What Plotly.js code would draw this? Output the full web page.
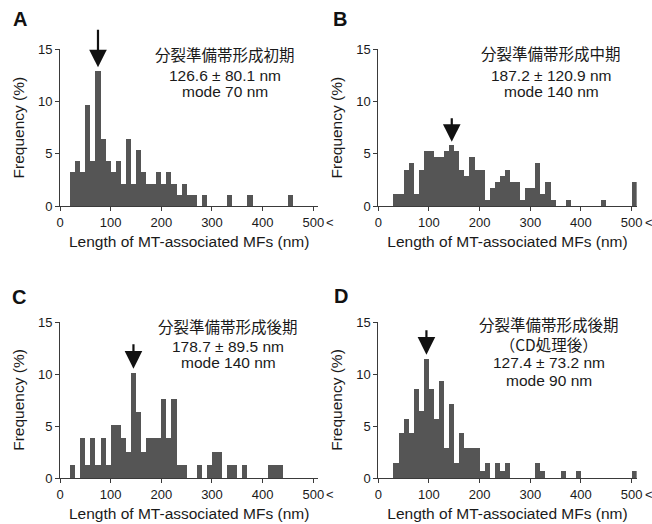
<!DOCTYPE html>
<html>
<head>
<meta charset="utf-8">
<script src="https://cdn.plot.ly/plotly-3.0.1.min.js"></script>
<style>
  html, body { margin: 0; padding: 0; background: #ffffff; }
  #chart { width: 652px; height: 524px; }
</style>
</head>
<body>
<div id="chart"></div>
<script>
// ---- data ----
const binStarts = [0,10,20,30,40,50,60,70,80,90,
  100,110,120,130,140,150,160,170,180,190,
  200,210,220,230,240,250,260,270,280,290,
  300,310,320,330,340,350,360,370,380,390,
  400,410,420,430,440,450,460,470,480,490,
  500];

const freqEarly = [0,0,3.23,4.30,3.23,9.68,4.30,12.90,6.45,4.30,
  3.23,4.30,2.15,6.45,2.15,5.38,3.23,2.15,2.15,3.23,
  2.15,3.23,2.15,1.08,2.15,1.08,1.08,0,1.08,0,
  0,0,0,1.08,0,0,0,1.08,0,0,
  0,0,0,0,0,1.08,0,0,0,0,
  0];

const freqMiddle = [0,0,0,1.16,1.16,3.49,4.07,1.16,3.49,5.23,
  5.23,4.65,4.65,5.23,5.81,5.23,3.49,2.91,4.65,3.49,
  3.49,0.58,1.74,2.33,2.91,3.49,2.33,2.33,0.58,1.74,
  1.74,4.07,1.16,2.33,0.58,0,0,0.58,0,0,
  0,0,0,0,0.58,0,0,0,0,0,
  2.33];

const freqLate = [0,0,1.27,0,3.80,1.27,3.80,1.27,3.80,1.27,
  5.06,5.06,3.80,2.53,10.13,6.33,2.53,3.80,3.80,3.80,
  7.59,3.80,7.59,1.27,1.27,0,0,1.27,0,1.27,
  2.53,2.53,0,1.27,1.27,0,1.27,0,0,0,
  0,1.27,1.27,1.27,0,0,0,0,0,0,
  0];

const freqLateCD = [0,0,0,1.43,4.29,5.71,4.29,8.57,6.43,11.43,
  8.57,5.71,9.29,2.86,7.14,1.43,4.29,2.86,2.86,2.86,
  0.71,1.43,0,1.43,0.71,1.43,0,0,0,0,
  0,1.43,0.71,0,0,0,0.71,0,0,0.71,
  0,0,0,0,0,0,0,0,0,0,
  0.71];

const panelLetters = ['A', 'B', 'C', 'D'];
const stageLabels = ['分裂準備帯形成初期', '分裂準備帯形成中期', '分裂準備帯形成後期', '分裂準備帯形成後期<br>（CD処理後）'];
const meanLabels = ['126.6 ± 80.1 nm', '187.2 ± 120.9 nm', '178.7 ± 89.5 nm', '127.4 ± 73.2 nm'];
const modeLabels = ['mode 70 nm', 'mode 140 nm', 'mode 140 nm', 'mode 90 nm'];
const xTickVals = [0, 100, 200, 300, 400, 500];
const xTickText = ['0', '100', '200', '300', '400', '500'];
const yTickVals = [0, 5, 10, 15];
const xTitle = 'Length of MT-associated MFs (nm)';
const yTitle = 'Frequency (%)';

// ---- styling / layout ----
const W = 652, H = 524;
const FONT = '"Liberation Sans", Arial, "Noto Sans CJK JP", sans-serif';
const CJK = '"Noto Sans CJK JP", "Liberation Sans", sans-serif';
const barColor = '#555555';
const lineColor = '#3a3a3a';

const series = [freqEarly, freqMiddle, freqLate, freqLateCD];
// pixel geometry of each panel: x of 0 nm, y of 0 %, y of 15 %
const panels = [
  {x0: 60,    y0: 206, y15: 49.3},
  {x0: 378.3, y0: 206, y15: 49.3},
  {x0: 60,    y0: 478, y15: 322},
  {x0: 378.3, y0: 478, y15: 322}
];
const pxPerNm = 253.3 / 500;
const xRange = [0, 510];
const letterPos = [[19.5, 19], [340, 18.5], [18.5, 296.5], [341, 295.5]];
// centre x, centre y of: stage label block, mean line, mode line
const textPos = [
  {cx: 225, lines: [54, 75, 91.5]},
  {cx: 551, lines: [53.5, 75, 91.5]},
  {cx: 228, lines: [325.5, 346, 362.5]},
  {cx: 549, lines: [333.5, 362.5, 380.5]}
];
const arrowLen = [43, 28.5, 30, 30.5];
const arrowGap = [4, 3.5, 4, 4.5];

const traces = [];
const layout = {
  width: W, height: H,
  margin: {l: 0, r: 0, t: 0, b: 0},
  paper_bgcolor: '#ffffff', plot_bgcolor: '#ffffff',
  showlegend: false,
  bargap: 0,
  font: {family: FONT, size: 12, color: '#1a1a1a'},
  annotations: []
};

series.forEach((vals, i) => {
  const n = i + 1;
  const xa = 'x' + (n === 1 ? '' : n);
  const ya = 'y' + (n === 1 ? '' : n);
  const p = panels[i];
  traces.push({
    type: 'bar', x: binStarts, y: vals, xaxis: xa, yaxis: ya,
    width: 10, offset: 0,
    marker: {color: barColor, line: {width: 0}},
    hoverinfo: 'skip'
  });
  const xd0 = (p.x0 + xRange[0] * pxPerNm) / W;
  const xd1 = (p.x0 + xRange[1] * pxPerNm) / W;
  const common = {
    showline: true, linecolor: lineColor, linewidth: 1,
    ticks: 'outside', ticklen: 4, tickwidth: 1, tickcolor: lineColor,
    showgrid: false, zeroline: false, fixedrange: true,
    tickfont: {family: FONT, size: 13, color: '#1a1a1a'}
  };
  layout['xaxis' + (n === 1 ? '' : n)] = Object.assign({}, common, {
    domain: [xd0, xd1], range: xRange, anchor: ya,
    tickmode: 'array', tickvals: xTickVals, ticktext: xTickText,
    title: {text: xTitle, font: {family: FONT, size: 15.5, color: '#1a1a1a'}, standoff: 7}
  });
  layout['yaxis' + (n === 1 ? '' : n)] = Object.assign({}, common, {
    domain: [1 - p.y0 / H, 1 - p.y15 / H], range: [0, 15], anchor: xa,
    tickmode: 'array', tickvals: yTickVals,
    title: {text: yTitle, font: {family: FONT, size: 15.5, color: '#1a1a1a'}, standoff: 9}
  });

  // "<" after the 500 tick label (open-ended last bin)
  layout.annotations.push({
    xref: xa, yref: ya, x: 500, y: 0, xshift: 17, yshift: -16,
    text: '<', showarrow: false, xanchor: 'center', yanchor: 'middle',
    font: {family: FONT, size: 13, color: '#1a1a1a'}
  });

  // panel letter
  layout.annotations.push({
    xref: 'paper', yref: 'paper',
    x: letterPos[i][0] / W, y: 1 - letterPos[i][1] / H,
    text: '<b>' + panelLetters[i] + '</b>', showarrow: false,
    xanchor: 'center', yanchor: 'middle',
    font: {family: FONT, size: 20, color: '#111111'}
  });

  // text block
  const tp = textPos[i];
  const lines = [stageLabels[i], meanLabels[i], modeLabels[i]];
  lines.forEach((t, k) => {
    layout.annotations.push({
      xref: 'paper', yref: 'paper', x: tp.cx / W, y: 1 - tp.lines[k] / H,
      text: t, showarrow: false, xanchor: 'center', yanchor: 'middle', align: 'center',
      font: {family: k === 0 ? CJK : FONT, size: 15.5, color: '#1a1a1a'}
    });
  });

  // arrow pointing at the modal bin
  let mi = 0;
  vals.forEach((v, k) => { if (v > vals[mi]) mi = k; });
  layout.annotations.push({
    xref: xa, yref: ya, x: binStarts[mi] + 5, y: vals[mi],
    ax: 0, ay: -arrowLen[i], axref: 'pixel', ayref: 'pixel',
    text: '', showarrow: true, arrowhead: 2, arrowsize: 1.6, arrowwidth: 2.2,
    arrowcolor: '#111111', standoff: arrowGap[i]
  });
});

Plotly.newPlot('chart', traces, layout, {staticPlot: true, displayModeBar: false});
</script>
</body>
</html>
